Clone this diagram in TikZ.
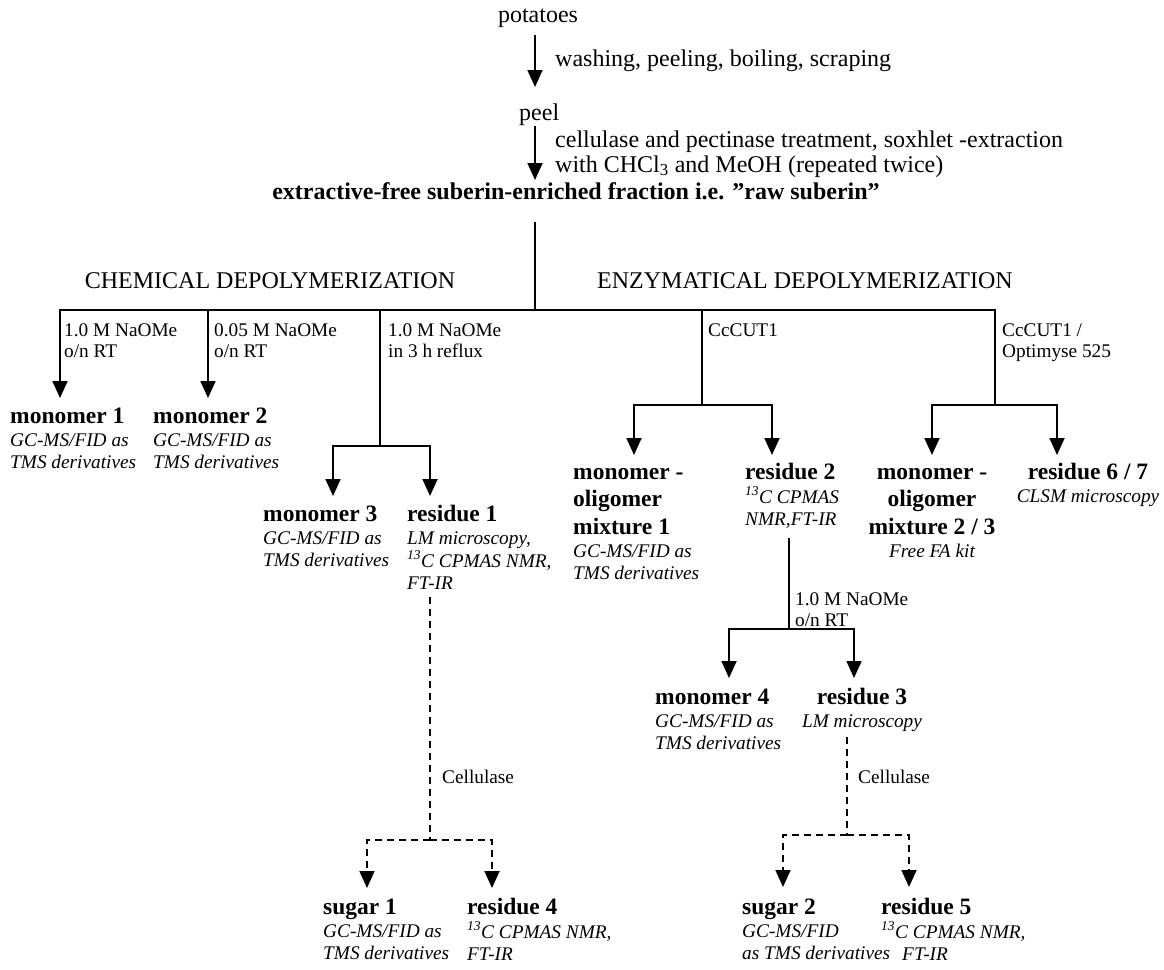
\documentclass[tikz,border=0pt]{standalone}
\usepackage{fontspec}
\setmainfont{Liberation Serif}
\usetikzlibrary{arrows.meta}
\newcommand{\blk}[2]{\begin{tabular}[t]{@{}#1@{}}#2\end{tabular}}
\newcommand{\bt}[1]{{\fontsize{23.5}{22}\selectfont\bfseries #1}}
\newcommand{\itx}[1]{{\itshape #1}}
\newcommand{\thc}{\textsuperscript{13}C}
\begin{document}
\begin{tikzpicture}[x=1pt,y=-1pt,
  main/.style={inner sep=0pt, font=\fontsize{24}{25}\selectfont},
  lab/.style={inner sep=0pt, anchor=base west, font=\fontsize{19.3}{21}\selectfont},
  blkl/.style={inner sep=0pt, anchor=base west, font=\fontsize{19.3}{22}\selectfont},
  blkc/.style={inner sep=0pt, anchor=base, font=\fontsize{19.3}{22}\selectfont},
  ln/.style={line width=1.8pt, line join=miter},
  arr/.style={ln, -{Triangle[width=15pt,length=17pt]}},
  dln/.style={ln, dash pattern=on 7pt off 5pt},
  darr/.style={arr, dash pattern=on 7pt off 5pt}]
\useasboundingbox (0,0) rectangle (1164,969);
\fill[white] (0,0) rectangle (1164,969);

% ---------- top ----------
\node[main, anchor=base] (pot) at (538,22) {potatoes};
\node[main, anchor=base west] (wash) at (555,66) {washing, peeling, boiling, scraping};
\node[main, anchor=base west] (peel) at (519,120) {peel};
\node[main, anchor=base west] (cell) at (555,147) {\blk{l}{cellulase and pectinase treatment, soxhlet -extraction\\ with CHCl\textsubscript{3} and MeOH (repeated twice)}};
\node[main, anchor=base, font=\fontsize{24}{26}\selectfont\bfseries] (raw) at (576,199) {extractive-free suberin-enriched fraction i.e. ”raw suberin”};

\coordinate (a1s) at (535,35);  \coordinate (a1e) at (535,87);
\coordinate (a2s) at (535,126); \coordinate (a2e) at (535,180);
\draw[arr] (a1s) -- (a1e);
\draw[arr] (a2s) -- (a2e);

\coordinate (v0) at (535,222);
\coordinate (J) at (535,310);
\draw[ln] (v0) -- (J);

\node[main, anchor=base] (chem) at (270,288) {CHEMICAL DEPOLYMERIZATION};
\node[main, anchor=base west] (enz) at (597,288) {ENZYMATICAL DEPOLYMERIZATION};

% ---------- branch tips / junctions ----------
\coordinate (t1) at (60,398);
\coordinate (t2) at (208,398);
\coordinate (b2) at (208,310);
\coordinate (b3) at (380,310);
\coordinate (j3) at (380,446);
\coordinate (t3l) at (333,496);
\coordinate (t3r) at (430,496);
\coordinate (b4) at (702,310);
\coordinate (j4) at (702,405);
\coordinate (t4l) at (634,455);
\coordinate (t4r) at (772,455);
\coordinate (j5) at (995,405);
\coordinate (t5l) at (932,455);
\coordinate (t5r) at (1057,455);
\coordinate (r2b) at (789,538);
\coordinate (j6) at (789,629);
\coordinate (t6l) at (729,678);
\coordinate (t6r) at (854,678);
\coordinate (d1s) at (430,597);
\coordinate (d1) at (430,840);
\coordinate (ts1) at (367,888);
\coordinate (tr4) at (492,888);
\coordinate (d3s) at (847,737);
\coordinate (d3) at (847,835);
\coordinate (ts2) at (783,887);
\coordinate (tr5) at (909,887);

\draw[arr] (J) -| (t1);
\draw[ln] (J) -| (j5);
\draw[arr] (b2) -- (t2);
\draw[ln] (b3) -- (j3);
\draw[arr] (j3) -| (t3l);
\draw[arr] (j3) -| (t3r);
\draw[ln] (b4) -- (j4);
\draw[arr] (j4) -| (t4l);
\draw[arr] (j4) -| (t4r);
\draw[arr] (j5) -| (t5l);
\draw[arr] (j5) -| (t5r);
\draw[ln] (r2b) -- (j6);
\draw[arr] (j6) -| (t6l);
\draw[arr] (j6) -| (t6r);
\draw[dln] (d1s) -- (d1);
\draw[darr] (d1) -| (ts1);
\draw[darr] (d1) -| (tr4);
\draw[dln] (d3s) -- (d3);
\draw[darr] (d3) -| (ts2);
\draw[darr] (d3) -| (tr5);

% ---------- branch labels ----------
\node[lab] (l1) at (64,336) {\blk{l}{1.0 M NaOMe\\o/n RT}};
\node[lab] (l2) at (214,336) {\blk{l}{0.05 M NaOMe\\o/n RT}};
\node[lab] (l3) at (388,336) {\blk{l}{1.0 M NaOMe\\in 3 h reflux}};
\node[lab] (l4) at (708,336) {CcCUT1};
\node[lab] (l5) at (1002,336) {\blk{l}{CcCUT1 /\\Optimyse 525}};
\node[lab] (l6) at (795,605) {\blk{l}{1.0 M NaOMe\\o/n RT}};
\node[lab] (c1) at (442,783) {Cellulase};
\node[lab] (c2) at (858,783) {Cellulase};

% ---------- result blocks ----------
\node[blkl] (m1) at (10,423) {\blk{l}{\bt{monomer 1}\\[1pt] \itx{GC-MS/FID as}\\ \itx{TMS derivatives}}};
\node[blkl] (m2) at (153,423) {\blk{l}{\bt{monomer 2}\\[1pt] \itx{GC-MS/FID as}\\ \itx{TMS derivatives}}};
\node[blkl] (m3) at (263,521) {\blk{l}{\bt{monomer 3}\\[1pt] \itx{GC-MS/FID as}\\ \itx{TMS derivatives}}};
\node[blkl] (r1) at (407,521) {\blk{l}{\bt{residue 1}\\[1pt] \itx{LM microscopy,}\\ \itx{\thc{} CPMAS NMR,}\\ \itx{FT-IR}}};
\node[blkl] (mo1) at (573,479) {\blk{l}{\bt{monomer -}\\[5pt]\bt{oligomer}\\[5pt]\bt{mixture 1}\\[1pt] \itx{GC-MS/FID as}\\ \itx{TMS derivatives}}};
\node[blkl] (r2) at (745,479) {\blk{l}{\bt{residue 2}\\[1pt] \itx{\thc{} CPMAS}\\ \itx{NMR,FT-IR}}};
\node[blkc] (mo2) at (932,479) {\blk{c}{\bt{monomer -}\\[5pt]\bt{oligomer}\\[5pt]\bt{mixture 2 / 3}\\[1pt] \itx{Free FA kit}}};
\node[blkc] (r67) at (1088,479) {\blk{c}{\bt{residue 6 / 7}\\[1pt] \itx{CLSM microscopy}}};
\node[blkl] (m4) at (655,704) {\blk{l}{\bt{monomer 4}\\[1pt] \itx{GC-MS/FID as}\\ \itx{TMS derivatives}}};
\node[blkc] (r3) at (862,704) {\blk{c}{\bt{residue 3}\\[1pt] \itx{LM microscopy}}};
\node[blkl] (s1) at (323,914) {\blk{l}{\bt{sugar 1}\\[1pt] \itx{GC-MS/FID as}\\ \itx{TMS derivatives}}};
\node[blkl] (r4) at (467,914) {\blk{l}{\bt{residue 4}\\[1pt] \itx{\thc{} CPMAS NMR,}\\ \itx{FT-IR}}};
\node[blkl] (s2) at (742,914) {\blk{l}{\bt{sugar 2}\\[1pt] \itx{GC-MS/FID}\\ \itx{as TMS derivatives}}};
\node[blkl] (r5) at (881,914) {\blk{l}{\bt{residue 5}\\[1pt] \itx{\thc{} CPMAS NMR,}\\ \hspace*{21pt}\itx{FT-IR}}};
\end{tikzpicture}
\end{document}
